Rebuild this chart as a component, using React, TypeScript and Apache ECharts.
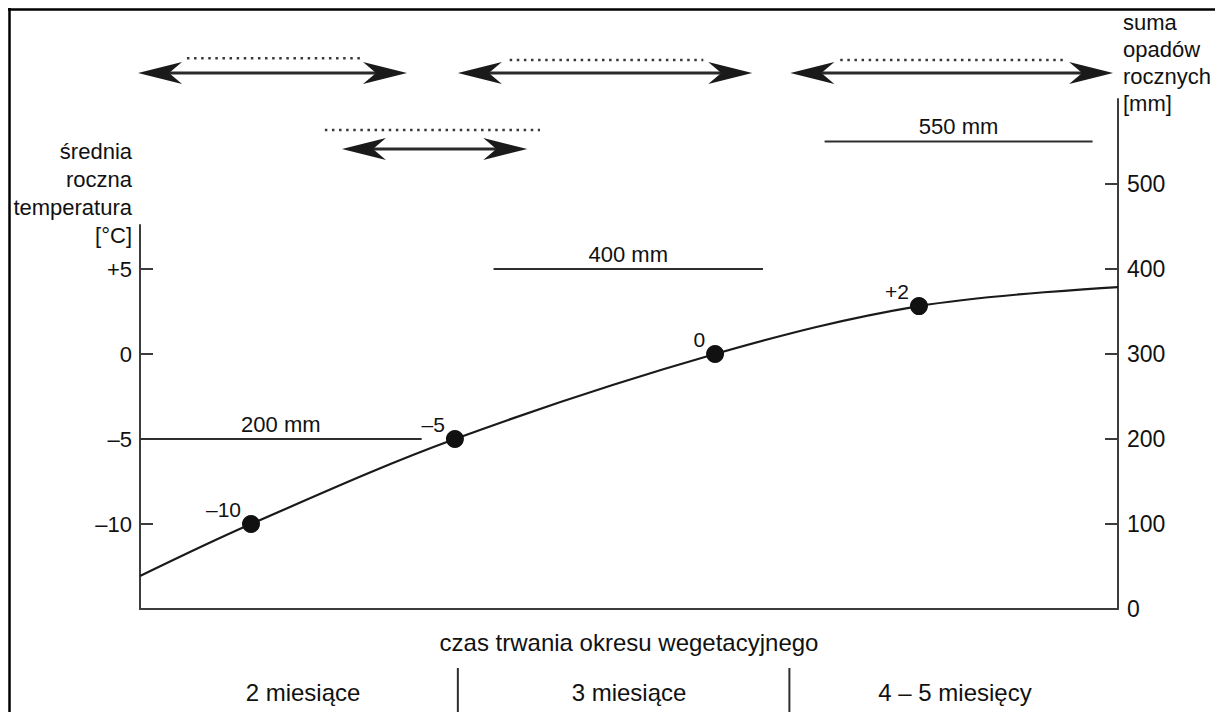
import React, { useEffect, useRef } from "react";
import * as echarts from "echarts";

const FONT = '"Liberation Sans", Arial, Helvetica, sans-serif';
const INK = "#111";
const AXIS = "#3c3c3c";

// position along the "vegetation period" axis, 0..100
const curveX = [0, 11.35, 32.2, 58.8, 79.65, 100];
const curveTemp = [-13.06, -10, -5, 0, 2.82, 3.94];

const pointX = [11.35, 32.2, 58.8, 79.65];
const pointTemp = [-10, -5, 0, 2.82];
const pointLabels = ["–10", "–5", "0", "+2"];

const tempTicks = [-10, -5, 0, 5];
const rainTicks = [0, 100, 200, 300, 400, 500];

const rainLevel = [200, 400, 550];
const rainFrom = [0, 36.15, 70.0];
const rainTo = [28.8, 63.7, 97.4];
const rainLabels = ["200 mm", "400 mm", "550 mm"];

const arrowFrom = [-0.2, 32.5, 66.5, 20.65];
const arrowTo = [27.3, 62.6, 99.5, 39.6];
const arrowLevel = [630.6, 630.6, 630.6, 541.2];

const dotFrom = [4.8, 37.8, 71.6, 18.9];
const dotTo = [22.5, 57.6, 94.8, 40.9];
const dotLevel = [648, 646, 646, 563.5];

const periodLabels = ["2 miesiące", "3 miesiące", "4 – 5 miesięcy"];
const periodBounds = [32.5, 66.4];

const fmtTemp = (v: number) => {
  if (!tempTicks.includes(v)) return "";
  if (v > 0) return "+" + v;
  if (v < 0) return "–" + -v;
  return "0";
};

function buildOption() {
  const textBase = { fontFamily: FONT, fontSize: 22, color: INK };
  return {
    animation: false,
    backgroundColor: "#fff",
    graphic: [
      { type: "line", shape: { x1: 8, y1: 9.5, x2: 1215, y2: 9.5 }, style: { stroke: "#000", lineWidth: 2.5 } },
      { type: "line", shape: { x1: 9.5, y1: 8, x2: 9.5, y2: 712 }, style: { stroke: "#000", lineWidth: 2.5 } },
    ],
    grid: [
      { left: 140, right: 97, top: 225, bottom: 103 },
      { left: 140, right: 97, top: 99, bottom: 103 },
    ],
    xAxis: [
      {
        gridIndex: 0,
        type: "value",
        min: 0,
        max: 100,
        position: "bottom",
        axisLine: { show: true, onZero: false, lineStyle: { color: AXIS, width: 2 } },
        axisTick: { show: false },
        axisLabel: { show: false },
        splitLine: { show: false },
        name: "czas trwania okresu wegetacyjnego",
        nameLocation: "middle",
        nameGap: 21,
        nameTextStyle: { ...textBase, fontSize: 24 },
      },
      {
        gridIndex: 1,
        type: "value",
        min: 0,
        max: 100,
        show: false,
      },
      {
        gridIndex: 0,
        type: "category",
        position: "bottom",
        data: periodLabels,
        boundaryGap: true,
        axisLine: { show: false, onZero: false },
        axisTick: { show: false },
        splitLine: { show: false },
        axisLabel: { ...textBase, fontSize: 24, interval: 0, margin: 71, lineHeight: 24 },
      },
    ],
    yAxis: [
      {
        gridIndex: 0,
        type: "value",
        position: "left",
        min: -15,
        max: 7.59,
        interval: 5,
        axisLine: { show: true, onZero: false, lineStyle: { color: AXIS, width: 2 } },
        axisTick: { show: true, inside: true, length: 13, lineStyle: { color: AXIS, width: 2 }, customValues: tempTicks },
        axisLabel: { ...textBase, margin: 8, formatter: fmtTemp, customValues: tempTicks },
        splitLine: { show: false },
        name: "średnia\nroczna\ntemperatura\n[°C]",
        nameLocation: "end",
        nameGap: -24,
        nameTextStyle: { ...textBase, align: "right", verticalAlign: "bottom", lineHeight: 28, padding: [0, 8, 0, 0] },
      },
      {
        gridIndex: 1,
        type: "value",
        position: "right",
        min: 0,
        max: 600,
        interval: 100,
        axisLine: { show: true, onZero: false, lineStyle: { color: AXIS, width: 2 } },
        axisTick: { show: true, inside: true, length: 13, lineStyle: { color: AXIS, width: 2 }, customValues: rainTicks },
        axisLabel: { ...textBase, fontSize: 23, margin: 9, customValues: rainTicks, formatter: (v: number) => (rainTicks.includes(v) ? String(v) : "") },
        splitLine: { show: false },
        name: "suma\nopadów\nrocznych\n[mm]",
        nameLocation: "end",
        nameGap: -18,
        nameTextStyle: { ...textBase, align: "left", verticalAlign: "bottom", lineHeight: 27, padding: [0, 0, 0, 5] },
      },
    ],
    series: [
      {
        type: "line",
        xAxisIndex: 0,
        yAxisIndex: 0,
        data: curveX.map((x, i) => [x, curveTemp[i]]),
        smooth: 0.35,
        symbol: "none",
        lineStyle: { color: "#1a1a1a", width: 2.2 },
        z: 3,
      },
      {
        type: "scatter",
        xAxisIndex: 0,
        yAxisIndex: 0,
        data: pointX.map((x, i) => [x, pointTemp[i]]),
        symbolSize: 18,
        itemStyle: { color: "#111", opacity: 1 },
        label: {
          show: true,
          position: "inside",
          align: "right",
          verticalAlign: "middle",
          offset: [-10, -15],
          formatter: (p: any) => pointLabels[p.dataIndex],
          fontFamily: FONT,
          fontSize: 21,
          color: INK,
          opacity: 1,
        },
        z: 4,
      },
      {
        type: "custom",
        xAxisIndex: 1,
        yAxisIndex: 1,
        encode: { x: [0, 1], y: 2 },
        data: rainLevel.map((v, i) => [rainFrom[i], rainTo[i], v]),
        renderItem: (params: any, api: any) => {
          const a = api.coord([api.value(0), api.value(2)]);
          const b = api.coord([api.value(1), api.value(2)]);
          return {
            type: "group",
            children: [
              { type: "line", shape: { x1: a[0], y1: a[1], x2: b[0], y2: b[1] }, style: { stroke: "#2e2e2e", lineWidth: 2 } },
              {
                type: "text",
                style: {
                  text: rainLabels[params.dataIndex],
                  x: (a[0] + b[0]) / 2,
                  y: a[1] - 4,
                  align: "center",
                  verticalAlign: "bottom",
                  fontFamily: FONT,
                  fontSize: 22,
                  fill: INK,
                },
              },
            ],
          };
        },
      },
      {
        type: "custom",
        xAxisIndex: 1,
        yAxisIndex: 1,
        encode: { x: [0, 1], y: 2 },
        data: arrowFrom.map((f, i) => [f, arrowTo[i], arrowLevel[i]]),
        renderItem: (params: any, api: any) => {
          const a = api.coord([api.value(0), api.value(2)]);
          const b = api.coord([api.value(1), api.value(2)]);
          const y = a[1];
          const L = 44, H = 11, N = 31;
          return {
            type: "group",
            children: [
              { type: "line", shape: { x1: a[0] + N, y1: y, x2: b[0] - N, y2: y }, style: { stroke: "#2a2a2a", lineWidth: 3.2 } },
              { type: "polygon", shape: { points: [[a[0], y], [a[0] + L, y - H], [a[0] + N, y], [a[0] + L, y + H]] }, style: { fill: "#1a1a1a" } },
              { type: "polygon", shape: { points: [[b[0], y], [b[0] - L, y - H], [b[0] - N, y], [b[0] - L, y + H]] }, style: { fill: "#1a1a1a" } },
            ],
          };
        },
      },
      {
        type: "custom",
        xAxisIndex: 1,
        yAxisIndex: 1,
        encode: { x: [0, 1], y: 2 },
        data: dotFrom.map((f, i) => [f, dotTo[i], dotLevel[i]]),
        renderItem: (params: any, api: any) => {
          const a = api.coord([api.value(0), api.value(2)]);
          const b = api.coord([api.value(1), api.value(2)]);
          return {
            type: "line",
            shape: { x1: a[0], y1: a[1], x2: b[0], y2: b[1] },
            style: { stroke: "#3a3a3a", lineWidth: 2.5, lineDash: [2.5, 4.6] },
          };
        },
      },
      {
        type: "custom",
        xAxisIndex: 0,
        yAxisIndex: 0,
        encode: { x: 0 },
        data: periodBounds.map((x) => [x]),
        renderItem: (params: any, api: any) => {
          const p = api.coord([api.value(0), -15]);
          return {
            type: "line",
            shape: { x1: p[0], y1: p[1] + 59, x2: p[0], y2: p[1] + 110 },
            style: { stroke: "#2e2e2e", lineWidth: 2 },
          };
        },
      },
    ],
  };
}

export default function App() {
  const ref = useRef<HTMLDivElement>(null);
  useEffect(() => {
    if (!ref.current) return;
    const chart = echarts.init(ref.current, null, { renderer: "svg" });
    chart.setOption(buildOption() as any);
    return () => chart.dispose();
  }, []);
  return (
    <div
      ref={ref}
      style={{ position: "fixed", left: 0, top: 0, width: 1215, height: 712, background: "#fff" }}
    />
  );
}
